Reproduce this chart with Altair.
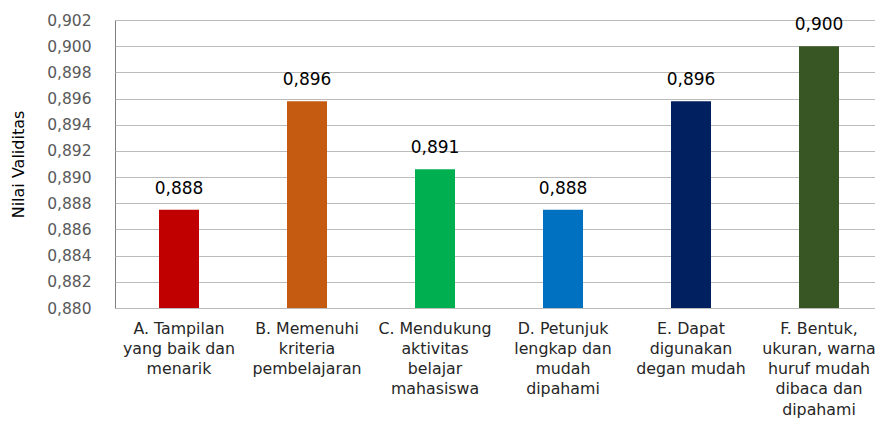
import altair as alt
import pandas as pd

categories = [
    "A. Tampilan|yang baik dan|menarik",
    "B. Memenuhi|kriteria|pembelajaran",
    "C. Mendukung|aktivitas|belajar|mahasiswa",
    "D. Petunjuk|lengkap dan|mudah|dipahami",
    "E. Dapat|digunakan|degan mudah",
    "F. Bentuk,|ukuran, warna|huruf mudah|dibaca dan|dipahami",
]
values = [0.8875, 0.8958, 0.8906, 0.8875, 0.8958, 0.9000]
colors = ["#C00000", "#C55A11", "#00B050", "#0070C0", "#002060", "#375623"]
y_ticks = [0.880, 0.882, 0.884, 0.886, 0.888, 0.890, 0.892, 0.894, 0.896, 0.898, 0.900, 0.902]

df = pd.DataFrame({"cat": categories, "val": values, "color": colors})

FONT = "DejaVu Sans"

x = alt.X(
    "cat:N",
    sort=categories,
    title=None,
    scale=alt.Scale(range=[0, 768], paddingInner=0.6875, paddingOuter=0.34375),
    axis=alt.Axis(
        labelExpr="split(datum.label, '|')",
        labelAngle=0,
        labelFont=FONT,
        labelFontSize=15.8,
        labelColor="#262626",
        labelLineHeight=20.3,
        labelPadding=13,
        labelBaseline="top",
        labelOverlap=False,
        ticks=False,
        domain=False,
    ),
)
y = alt.Y(
    "val:Q",
    title="Nilai Validitas",
    scale=alt.Scale(domain=[0.880, 0.902], zero=False, nice=False),
    axis=alt.Axis(
        values=y_ticks,
        labelExpr="replace(format(datum.value, '.3f'), '.', ',')",
        labelFont=FONT,
        labelFontSize=15.5,
        labelColor="#595959",
        labelPadding=24,
        labelOverlap=False,
        ticks=False,
        domain=False,
        grid=True,
        gridColor="#BBBBBB",
        gridWidth=1,
        titleFont=FONT,
        titleFontSize=16,
        titleFontWeight="normal",
        titleColor="#000000",
        titlePadding=20,
    ),
)

base = alt.Chart(df)
bars = base.mark_bar().encode(
    x=x,
    y=y,
    y2=alt.datum(0.880),
    color=alt.Color("color:N", scale=None),
)
labels = base.transform_calculate(
    lab="replace(format(datum.val + 0.0000001, '.3f'), '.', ',')"
).mark_text(
    font=FONT, fontSize=17, color="#000000", baseline="bottom", dy=-12
).encode(x=x, y=y, text="lab:N")

chart = (
    alt.layer(bars, labels)
    .properties(
        width=760,
        height=288,
        autosize=alt.AutoSizeParams(type="none"),
        padding={"left": 107, "top": 12, "right": 0, "bottom": 114},
    )
    .configure_view(stroke="#808080", strokeWidth=1)
)

chart.save("out.html", embed_options={"renderer": "svg", "actions": False})
